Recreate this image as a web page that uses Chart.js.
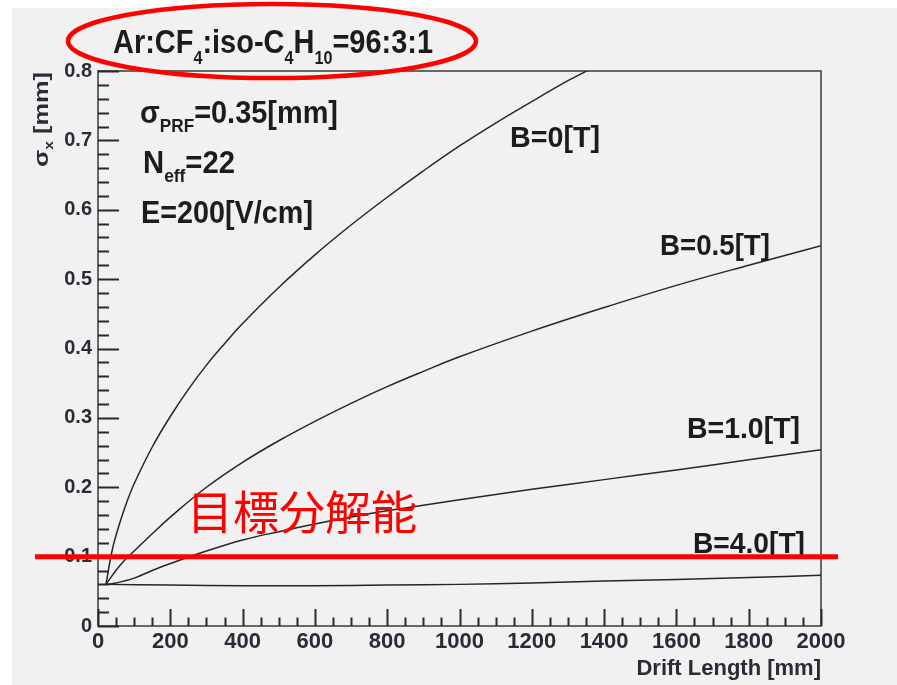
<!DOCTYPE html>
<html><head><meta charset="utf-8">
<script src="https://cdn.jsdelivr.net/npm/chart.js@4.4.1/dist/chart.umd.min.js"></script>
<style>html,body{margin:0;padding:0;background:#fff}canvas{display:block}</style>
</head><body>
<canvas id="c" width="897" height="685"></canvas>
<script>
// ---- data ----
const driftB0  = [22, 40, 60, 80, 100, 150, 200, 250, 300, 350, 400, 500, 600, 700, 800, 900, 1000, 1100, 1200, 1300, 1355];
const sigmaB0  = [0.060, 0.111, 0.148, 0.179, 0.205, 0.258, 0.302, 0.341, 0.376, 0.407, 0.436, 0.488, 0.535, 0.578, 0.618, 0.656, 0.692, 0.725, 0.756, 0.786, 0.801];
const driftB05 = [22, 60, 100, 150, 200, 300, 400, 500, 600, 700, 800, 900, 1000, 1200, 1400, 1600, 1800, 2000];
const sigmaB05 = [0.060, 0.087, 0.108, 0.133, 0.157, 0.200, 0.236, 0.267, 0.295, 0.321, 0.345, 0.367, 0.388, 0.425, 0.459, 0.491, 0.520, 0.548];
const driftB1  = [22, 50, 100, 150, 200, 300, 400, 500, 600, 700, 800, 1000, 1200, 1400, 1600, 1800, 2000];
const sigmaB1  = [0.060, 0.062, 0.069, 0.080, 0.090, 0.108, 0.124, 0.136, 0.147, 0.157, 0.166, 0.182, 0.197, 0.211, 0.225, 0.2395, 0.254];
const driftB4  = [22, 200, 400, 600, 800, 1000, 1200, 1400, 1600, 1800, 2000];
const sigmaB4  = [0.060, 0.059, 0.058, 0.058, 0.059, 0.060, 0.062, 0.065, 0.067, 0.070, 0.073];
const seriesNames = ['B=0[T]', 'B=0.5[T]', 'B=1.0[T]', 'B=4.0[T]'];
const targetSigma = 0.1;
const targetLabel = '目標分解能';
const xTitle = 'Drift Length [mm]';
const xMin = 0, xMax = 2000, xMajor = 200, xMinor = 50;
const yMin = 0, yMax = 0.8, yMajor = 0.1, yMinor = 0.02;

const FAM = '"Liberation Sans", Arial, sans-serif';
const TXT = '#1c1c1c';
const TICKC = '#2b2b38';

function pts(xs, ys) { return xs.map((x, i) => ({ x: x, y: ys[i] })); }

function drawRich(ctx, segs, x, y, o) {
  const w = o.weight || 'bold';
  let total = 0;
  const parts = segs.map(s => {
    const sub = !!s[1];
    ctx.font = w + ' ' + (sub ? o.sub : o.size) + 'px ' + (o.family || FAM);
    const m = ctx.measureText(s[0]).width;
    total += m;
    return { t: s[0], sub: sub, m: m };
  });
  const sx = o.width ? o.width / total : 1;
  ctx.save();
  ctx.translate(x, y);
  if (o.rotate) ctx.rotate(o.rotate);
  ctx.scale(sx, 1);
  ctx.textBaseline = 'alphabetic';
  ctx.textAlign = 'left';
  ctx.fillStyle = o.color || TXT;
  let cx = 0;
  for (const p of parts) {
    ctx.font = w + ' ' + (p.sub ? o.sub : o.size) + 'px ' + (o.family || FAM);
    ctx.fillText(p.t, cx, p.sub ? o.dy : 0);
    cx += p.m;
  }
  ctx.restore();
}

const framePlugin = {
  id: 'frame',
  beforeDraw(chart) {
    const ctx = chart.ctx;
    ctx.save();
    ctx.fillStyle = '#ffffff';
    ctx.fillRect(0, 0, chart.width, chart.height);
    ctx.fillStyle = '#f1f1f1';
    ctx.fillRect(12, 8, chart.width - 12, chart.height - 8);
    ctx.restore();
  },
  beforeDatasetsDraw(chart) {
    const ctx = chart.ctx, a = chart.chartArea;
    const xs = chart.scales.x, ys = chart.scales.y;
    ctx.save();
    ctx.strokeStyle = '#3a3a3a';
    ctx.lineWidth = 1.5;
    ctx.strokeRect(a.left, a.top, a.right - a.left, a.bottom - a.top);
    ctx.lineWidth = 2;
    ctx.strokeStyle = '#2a2a2a';
    ctx.beginPath();
    for (let v = xMin; v <= xMax + 1e-9; v += xMinor) {
      const px = Math.round(xs.getPixelForValue(v)) + 0.5;
      const len = (Math.abs(v / xMajor - Math.round(v / xMajor)) < 1e-6) ? 17 : 8.5;
      ctx.moveTo(px, a.bottom);
      ctx.lineTo(px, a.bottom - len);
    }
    for (let k = 0; k <= Math.round((yMax - yMin) / yMinor); k++) {
      const v = yMin + k * yMinor;
      const py = Math.round(ys.getPixelForValue(v)) + 0.5;
      const len = (k % Math.round(yMajor / yMinor) === 0) ? 21 : 11;
      ctx.moveTo(a.left, py);
      ctx.lineTo(a.left + len, py);
    }
    ctx.stroke();
    ctx.restore();
  },
  afterDraw(chart) {
    const ctx = chart.ctx;
    const ys = chart.scales.y;
    // y axis title (rotated)
    drawRich(ctx, [['σ'], ['x', 1], [' [mm]']], 48, 167, { size: 21, sub: 13, dy: 5, width: 95, rotate: -Math.PI / 2, color: TICKC });
    // header
    drawRich(ctx, [['Ar:CF'], ['4', 1], [':iso-C'], ['4', 1], ['H'], ['10', 1], ['=96:3:1']], 113, 53, { size: 34, sub: 19, dy: 11, width: 320 });
    // parameters
    drawRich(ctx, [['σ'], ['PRF', 1], ['=0.35[mm]']], 140, 123, { size: 32, sub: 19, dy: 9, width: 198 });
    drawRich(ctx, [['N'], ['eff', 1], ['=22']], 143, 173, { size: 32, sub: 19, dy: 9, width: 92 });
    drawRich(ctx, [['E=200[V/cm]']], 141, 223, { size: 32, sub: 19, dy: 9, width: 172 });
    // curve labels
    drawRich(ctx, [[seriesNames[0]]], 510, 147, { size: 30, width: 90 });
    drawRich(ctx, [[seriesNames[1]]], 660, 255, { size: 30, width: 110 });
    drawRich(ctx, [[seriesNames[2]]], 687, 438, { size: 30, width: 113 });
    drawRich(ctx, [[seriesNames[3]]], 693, 553, { size: 30, width: 112 });
    // target resolution line + label
    const py = ys.getPixelForValue(targetSigma);
    ctx.save();
    ctx.strokeStyle = '#ff0000';
    ctx.lineWidth = 5;
    ctx.beginPath();
    ctx.moveTo(35, py);
    ctx.lineTo(838, py);
    ctx.stroke();
    ctx.restore();
    drawRich(ctx, [[targetLabel]], 187, 529, { size: 46, weight: 'normal', family: '"Noto Sans CJK JP", "Noto Sans CJK SC", sans-serif', width: 230, color: '#ff0000' });
    // red ellipse around header
    ctx.save();
    ctx.strokeStyle = '#ff0000';
    ctx.lineWidth = 4.5;
    ctx.beginPath();
    ctx.ellipse(272, 41, 204, 37, 0, 0, Math.PI * 2);
    ctx.stroke();
    ctx.restore();
  }
};

const lineStyle = { borderColor: '#262626', borderWidth: 1.5, pointRadius: 0, fill: false, tension: 0.4 };

new Chart(document.getElementById('c'), {
  type: 'line',
  data: {
    datasets: [
      Object.assign({ label: seriesNames[0], data: pts(driftB0, sigmaB0) }, lineStyle),
      Object.assign({ label: seriesNames[1], data: pts(driftB05, sigmaB05) }, lineStyle),
      Object.assign({ label: seriesNames[2], data: pts(driftB1, sigmaB1) }, lineStyle),
      Object.assign({ label: seriesNames[3], data: pts(driftB4, sigmaB4) }, lineStyle)
    ]
  },
  options: {
    responsive: false,
    animation: false,
    events: [],
    layout: { padding: { left: 0, top: 71, right: 76, bottom: 0 } },
    plugins: { legend: { display: false }, tooltip: { enabled: false } },
    scales: {
      x: {
        type: 'linear', min: xMin, max: xMax,
        afterFit(s) { s.height = 59; },
        grid: { display: false, drawTicks: false },
        border: { display: false },
        ticks: { stepSize: xMajor, autoSkip: false, maxRotation: 0, padding: 3, color: TICKC,
                 font: { family: FAM, size: 22, weight: 'bold' }, callback: v => String(v) },
        title: { display: true, text: xTitle, align: 'end', color: TICKC,
                 font: { family: FAM, size: 22, weight: 'bold' }, padding: { top: 0, bottom: 3 } }
      },
      y: {
        type: 'linear', min: yMin, max: yMax,
        afterFit(s) { s.width = 98; },
        grid: { display: false, drawTicks: false },
        border: { display: false },
        ticks: { stepSize: yMajor, padding: 6, color: TICKC,
                 font: { family: FAM, size: 20, weight: 'bold' }, callback: v => String(+v.toFixed(1)) }
      }
    }
  },
  plugins: [framePlugin]
});
</script>
</body></html>
